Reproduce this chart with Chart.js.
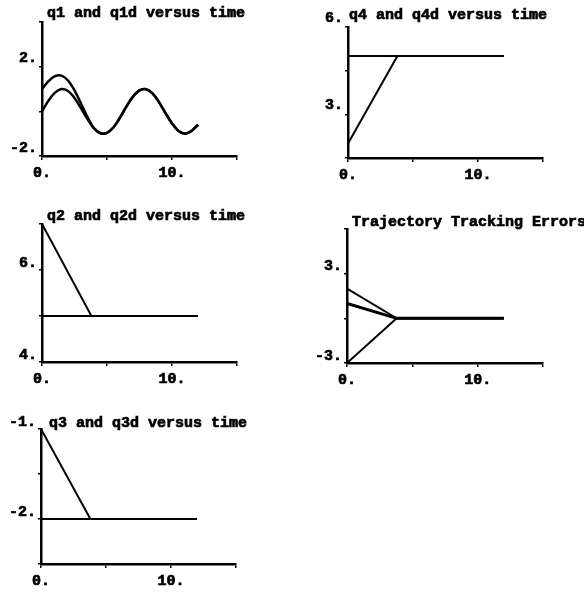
<!DOCTYPE html>
<html>
<head>
<meta charset="utf-8">
<script src="https://cdn.jsdelivr.net/npm/chart.js@4.4.1/dist/chart.umd.min.js"></script>
<style>
  body { margin: 0; background: #fff; width: 584px; height: 593px; position: relative; overflow: hidden; }
  canvas { position: absolute; }
</style>
</head>
<body>
<canvas id="c1"></canvas>
<canvas id="c2"></canvas>
<canvas id="c3"></canvas>
<canvas id="c4"></canvas>
<canvas id="c5"></canvas>
<script>
// time samples for the sine plot
const tSine = [0, 0.5, 1, 1.5, 2, 2.5, 3, 3.5, 4, 4.5, 5, 5.5, 6, 6.5, 7, 7.5, 8, 8.5, 9, 9.5, 10, 10.5, 11, 11.5, 12];
const q1d = [0, 0.48, 0.84, 1.0, 0.91, 0.6, 0.14, -0.35, -0.76, -0.98, -0.96, -0.71, -0.28, 0.22, 0.66, 0.94, 0.99, 0.8, 0.41, -0.08, -0.54, -0.88, -1.0, -0.88, -0.6];
const q1 = [1.0, 1.35, 1.58, 1.6, 1.38, 0.94, 0.35, -0.26, -0.76, -0.98, -0.96, -0.71, -0.28, 0.22, 0.66, 0.94, 0.99, 0.8, 0.41, -0.08, -0.54, -0.88, -1.0, -0.88, -0.6];

// time samples for the straight line plots
const tLin = [0, 3.8, 12];
const q2 = [7, 5, 5];
const q2d = [5, 5, 5];
const q3 = [-1, -2, -2];
const q3d = [-2, -2, -2];
const q4 = [2, 5, 5];
const q4d = [5, 5, 5];
const e1 = [1, 0, 0];
const e2 = [2, 0, 0];
const e3 = [1, 0, 0];
const e4 = [-3, 0, 0];

const xLabels = { 0: "0.", 10: "10." };

const FAMILY = "'Liberation Mono', 'DejaVu Sans Mono', monospace";
const TICKFONT = { family: FAMILY, size: 15, weight: "bold" };

// draws the title text at the top left of the plot area
const headingPlugin = {
  id: "heading",
  afterDraw(chart, args, opts) {
    const ctx = chart.ctx;
    const a = chart.chartArea;
    ctx.save();
    ctx.font = "bold 15px " + FAMILY;
    ctx.fillStyle = "#000";
    ctx.strokeStyle = "#000";
    ctx.lineWidth = 0.7;
    ctx.textBaseline = "middle";
    ctx.textAlign = "left";
    ctx.fillText(opts.text, a.left + opts.dx, a.top - opts.dy);
    ctx.strokeText(opts.text, a.left + opts.dx, a.top - opts.dy);
    ctx.restore();
  }
};

const pts = (xs, ys) => xs.map((x, i) => ({ x: x, y: ys[i] }));

function makePlot(id, box, series, y, title) {
  const cv = document.getElementById(id);
  const padL = 40, padT = 24, padR = 45, padB = 28;
  cv.width = box.w + padL + padR;
  cv.height = box.h + padT + padB;
  cv.style.left = (box.x - padL) + "px";
  cv.style.top = (box.y - padT) + "px";
  return new Chart(cv, {
    type: "line",
    plugins: [headingPlugin],
    data: {
      datasets: series.map(s => ({
        data: pts(s.t, s.v),
        borderColor: "#000",
        borderWidth: s.w || 2,
        pointRadius: 0,
        tension: s.smooth ? 0.35 : 0,
        fill: false
      }))
    },
    options: {
      responsive: false,
      animation: false,
      layout: { padding: { top: padT, right: padR, left: 0, bottom: 0 } },
      plugins: {
        legend: { display: false },
        tooltip: { enabled: false },
        heading: title
      },
      scales: {
        x: {
          type: "linear",
          min: 0,
          max: 15,
          afterFit: s => { s.height = padB; },
          border: { color: "#000", width: 2.5 },
          grid: { drawOnChartArea: false, color: "#000", lineWidth: 1.5, tickLength: 4 },
          ticks: {
            stepSize: 5,
            maxRotation: 0,
            padding: 4,
            color: "#000",
            textStrokeColor: "#000",
            textStrokeWidth: 0.7,
            font: TICKFONT,
            callback: v => xLabels[v] || ""
          }
        },
        y: {
          min: y.min,
          max: y.max,
          afterFit: s => { s.width = padL; },
          border: { color: "#000", width: 2.5 },
          grid: { drawOnChartArea: false, color: "#000", lineWidth: 1.5, tickLength: 3 },
          ticks: {
            stepSize: y.step,
            padding: 2,
            labelOffset: y.off,
            color: "#000",
            textStrokeColor: "#000",
            textStrokeWidth: 0.7,
            font: TICKFONT,
            callback: v => (y.labels[v] || "")
          }
        }
      }
    }
  });
}

makePlot("c1", { x: 42, y: 22, w: 195, h: 134 },
  [{ t: tSine, v: q1d, smooth: true, w: 2.5 }, { t: tSine, v: q1, smooth: true, w: 2.5 }],
  { min: -2, max: 4, step: 2, off: -8, labels: { "-2": "-2.", "2": "2." } },
  { text: "q1 and q1d versus time", dx: 5, dy: 9 });

makePlot("c2", { x: 348, y: 27, w: 195, h: 131 },
  [{ t: tLin, v: q4d }, { t: tLin, v: q4 }],
  { min: 1.5, max: 6, step: 1.5, off: -9, labels: { "3": "3.", "6": "6." } },
  { text: "q4 and q4d versus time", dx: 1, dy: 12 });

makePlot("c3", { x: 42, y: 224, w: 195, h: 138 },
  [{ t: tLin, v: q2d }, { t: tLin, v: q2 }],
  { min: 4, max: 7, step: 1, off: -7, labels: { "4": "4.", "6": "6." } },
  { text: "q2 and q2d versus time", dx: 5, dy: 8 });

makePlot("c4", { x: 347, y: 229, w: 196, h: 134 },
  [{ t: tLin, v: e1 }, { t: tLin, v: e2 }, { t: tLin, v: e3, w: 3 }, { t: tLin, v: e4 }],
  { min: -3, max: 6, step: 3, off: -7, labels: { "-3": "-3.", "3": "3." } },
  { text: "Trajectory Tracking Errors", dx: 5, dy: 7 });

makePlot("c5", { x: 41, y: 429, w: 195, h: 135 },
  [{ t: tLin, v: q3d }, { t: tLin, v: q3 }],
  { min: -2.5, max: -1, step: 0.5, off: -7, labels: { "-2": "-2.", "-1": "-1." } },
  { text: "q3 and q3d versus time", dx: 8, dy: 6 });
</script>
</body>
</html>
